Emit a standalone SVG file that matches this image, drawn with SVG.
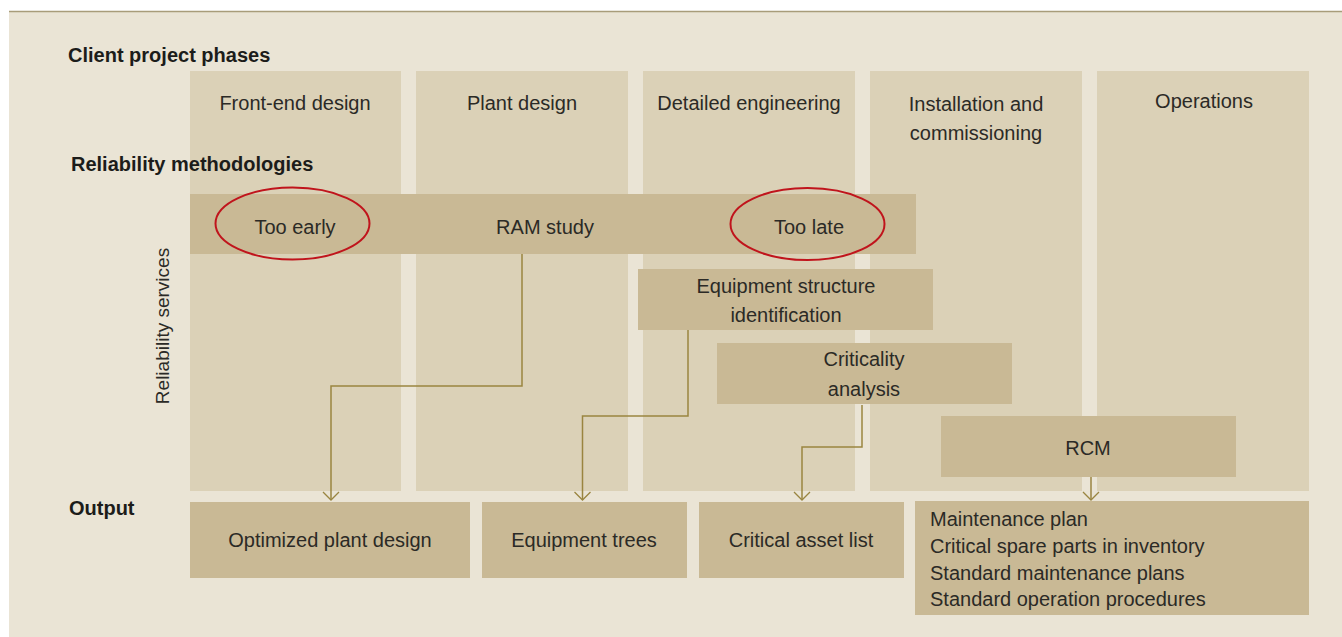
<svg xmlns="http://www.w3.org/2000/svg" width="1342" height="637" viewBox="0 0 1342 637">
<defs>
<style>
.t{font-family:"Liberation Sans",Arial,sans-serif;font-size:20px;fill:#2b2a26}
.h{font-family:"Liberation Sans",Arial,sans-serif;font-size:20px;font-weight:bold;fill:#1c1c1a}
.c{text-anchor:middle}
.col{fill:#dbd1b7}
.box{fill:#c9b995}
.ring{fill:none;stroke:#c0141c;stroke-width:2}
.con{fill:none;stroke:#9a8540;stroke-width:1.5}
</style>
<marker id="arr" viewBox="0 0 10 18" refX="9" refY="9" markerWidth="10" markerHeight="18" markerUnits="userSpaceOnUse" orient="auto">
<path d="M1,1 L9,9 L1,17" fill="none" stroke="#9a8540" stroke-width="1.3"/>
</marker>
</defs>
<rect x="0" y="0" width="1342" height="637" fill="#ffffff"/>
<rect x="9" y="12" width="1333" height="625" fill="#eae4d5"/>
<line x1="9" y1="11.5" x2="1342" y2="11.5" stroke="#a89c7a" stroke-width="1.5"/>

<g id="phase-frontend"><rect class="col" x="190" y="71" width="211" height="420"/><text class="t c" x="295" y="110">Front-end design</text></g>
<g id="phase-plant"><rect class="col" x="416" y="71" width="212" height="420"/><text class="t c" x="522" y="110">Plant design</text></g>
<g id="phase-detailed"><rect class="col" x="643" y="71" width="212" height="420"/><text class="t c" x="749" y="110">Detailed engineering</text></g>
<g id="phase-installation"><rect class="col" x="870" y="71" width="212" height="420"/><text class="t c" x="976" y="111">Installation and</text><text class="t c" x="976" y="140">commissioning</text></g>
<g id="phase-operations"><rect class="col" x="1097" y="71" width="212" height="420"/><text class="t c" x="1204" y="108">Operations</text></g>

<g id="labels">
<text class="h" x="68" y="62">Client project phases</text>
<text class="h" x="71" y="171">Reliability methodologies</text>
<text class="h" x="69" y="515">Output</text>
<text class="t" style="font-size:19px" transform="translate(169,326) rotate(-90)" text-anchor="middle">Reliability services</text>
</g>

<g id="ram-study"><rect class="box" x="190" y="194" width="726" height="60"/><text class="t c" x="545" y="234">RAM study</text></g>
<g id="too-early"><ellipse class="ring" cx="292.5" cy="223.5" rx="77" ry="36"/><text class="t c" x="295" y="234">Too early</text></g>
<g id="too-late"><ellipse class="ring" cx="807.5" cy="224" rx="77" ry="36"/><text class="t c" x="809" y="234">Too late</text></g>
<g id="equipment-structure"><rect class="box" x="638" y="269" width="295" height="61"/><text class="t c" x="786" y="293">Equipment structure</text><text class="t c" x="786" y="322">identification</text></g>
<g id="criticality"><rect class="box" x="717" y="343" width="295" height="61"/><text class="t c" x="864" y="366">Criticality</text><text class="t c" x="864" y="396">analysis</text></g>
<g id="rcm"><rect class="box" x="941" y="416" width="295" height="61"/><text class="t c" x="1088" y="455">RCM</text></g>

<g id="out-optimized"><rect class="box" x="190" y="502" width="280" height="76"/><text class="t c" x="330" y="547">Optimized plant design</text></g>
<g id="out-trees"><rect class="box" x="482" y="502" width="205" height="76"/><text class="t c" x="584" y="547">Equipment trees</text></g>
<g id="out-critical"><rect class="box" x="699" y="502" width="205" height="76"/><text class="t c" x="801" y="547">Critical asset list</text></g>
<g id="out-maintenance"><rect class="box" x="915" y="501" width="394" height="114"/>
<text class="t" x="930" y="526">Maintenance plan</text>
<text class="t" x="930" y="553">Critical spare parts in inventory</text>
<text class="t" x="930" y="580">Standard maintenance plans</text>
<text class="t" x="930" y="606">Standard operation procedures</text></g>

<g id="connectors">
<path class="con" d="M522,254 V386 H331 V500" marker-end="url(#arr)"/>
<path class="con" d="M688,330 V416 H582.5 V500" marker-end="url(#arr)"/>
<path class="con" d="M862,405 V447 H802 V500" marker-end="url(#arr)"/>
<path class="con" d="M1091,477 V500" marker-end="url(#arr)"/>
</g>
</svg>
